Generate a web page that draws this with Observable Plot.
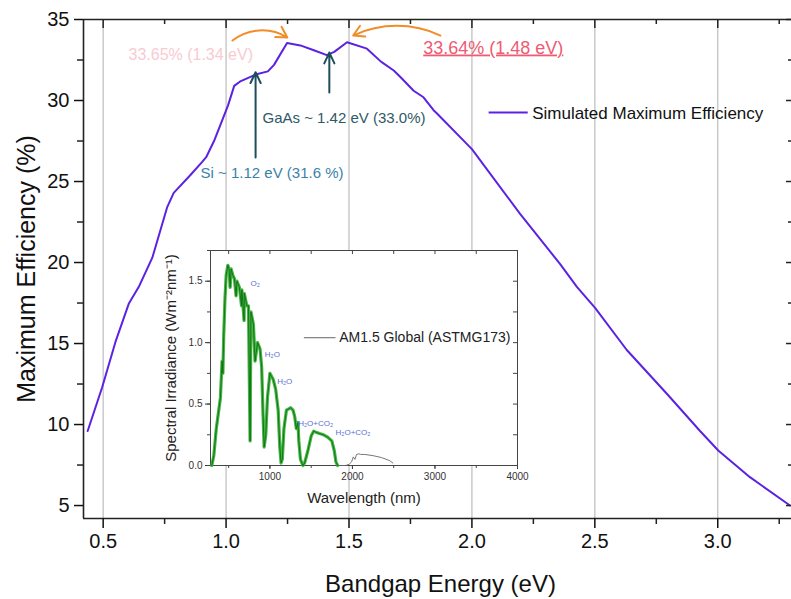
<!DOCTYPE html>
<html><head><meta charset="utf-8">
<script src="https://cdn.jsdelivr.net/npm/d3@7"></script>
<script src="https://cdn.jsdelivr.net/npm/@observablehq/plot@0.6"></script>
<style>
body{margin:0;background:#fff;}
#wrap{position:relative;width:791px;height:599px;overflow:hidden;font-family:"Liberation Sans",Arial,sans-serif;}
#inset{position:absolute;left:155px;top:240px;}
.uline text{text-decoration:underline;}
</style></head><body>
<div id="wrap"><div id="main"></div><div id="inset"></div></div>
<script>
// ---- main curve: simulated maximum efficiency vs bandgap ----
const bandgap = [0.437,0.496,0.55,0.604,0.645,0.70,0.76,0.787,0.855,0.902,0.919,0.951,1.008,1.033,1.06,1.12,1.17,1.195,1.248,1.302,1.357,1.41,1.44,1.492,1.573,1.63,1.682,1.709,1.763,1.803,1.844,1.858,2.0,2.196,2.359,2.427,2.501,2.63,2.793,2.928,3.002,3.131,3.294];
const efficiency = [9.6,12.3,15.1,17.45,18.5,20.3,23.4,24.3,25.4,26.2,26.5,27.5,29.7,30.9,31.2,31.6,31.8,32.2,33.55,33.4,33.1,32.8,33.0,33.6,33.2,32.4,31.85,31.45,30.6,30.2,29.4,29.2,27.0,23.0,19.9,18.5,17.2,14.6,11.9,9.6,8.4,6.75,5.0];
const xMajor = [0.5,1.0,1.5,2.0,2.5,3.0];
const xMinor = [0.75,1.25,1.75,2.25,2.75,3.25];
const yMajor = [5,10,15,20,25,30,35];
const yMinor = [7.5,12.5,17.5,22.5,27.5,32.5];
const xDomain = [0.42,3.30];
const yDomain = [4.2,35];
const xTitle = "Bandgap Energy (eV)";
const yTitle = "Maximum Efficiency (%)";
const legendLabel = "Simulated Maximum Efficiency";
const legendLine = [{x1:2.068,x2:2.227,y:29.26}];
const legendText = [{x:2.245,y:28.83,label:legendLabel}];
// annotations (data units)
const peakMain = [{x:1.802,y:32.90,label:"33.64% (1.48 eV)"}];
const peakFaded = [{x:0.603,y:32.47,label:"33.65% (1.34 eV)"}];
const gaasNote = [{x:1.148,y:28.64,label:"GaAs ~ 1.42 eV (33.0%)"}];
const siNote = [{x:0.896,y:25.19,label:"Si ~ 1.12 eV (31.6 %)"}];
const tealArrows = [{x:1.12,y1:26.48,y2:31.75},{x:1.42,y1:30.49,y2:32.96}];
const orangeLeft = [{x1:1.026,y1:33.70,x2:1.249,y2:33.89}];
const orangeRight = [{x1:1.872,y1:34.01,x2:1.517,y2:34.01}];

// ---- inset: AM1.5 Global spectrum ----
const wavelength = [295,320,350,380,400,420,430,440,455,470,490,505,518,530,550,570,590,600,630,656,660,687,690,720,740,760,770,800,820,850,880,900,915,930,950,970,1000,1040,1070,1100,1120,1135,1150,1170,1200,1250,1280,1300,1320,1340,1350,1370,1400,1420,1460,1500,1530,1560,1600,1650,1700,1750,1780,1800,1820,1870,1920,1960,1990,2010,2030,2050,2077,2100,2150,2250,2350,2450,2490];
const irradiance = [0.0,0.08,0.30,0.45,0.55,0.85,0.75,1.05,1.35,1.55,1.63,1.60,1.45,1.60,1.55,1.52,1.38,1.50,1.45,1.30,1.43,1.18,1.40,1.30,1.30,0.20,1.25,1.15,0.85,1.00,0.95,0.80,0.45,0.15,0.25,0.55,0.75,0.70,0.62,0.45,0.15,0.02,0.05,0.30,0.45,0.47,0.45,0.40,0.30,0.35,0.20,0.05,0.0,0.02,0.12,0.24,0.28,0.27,0.26,0.25,0.23,0.20,0.12,0.03,0.0,0.0,0.0,0.01,0.03,0.07,0.05,0.09,0.095,0.09,0.09,0.08,0.065,0.04,0.02];
const insetXMajor = [1000,2000,3000,4000];
const insetXAll = [500,1000,1500,2000,2500,3000,3500,4000];
const insetYMajor = [0,0.5,1.0,1.5];
const insetYAll = [0,0.25,0.5,0.75,1.0,1.25,1.5,1.75];
const insetXDomain = [280,4000];
const insetYDomain = [0,1.75];
const insetXTitle = "Wavelength (nm)";
const insetYTitle = "Spectral Irradiance (Wm⁻²nm⁻¹)";
const insetLegendLabel = "AM1.5 Global (ASTMG173)";
const insetLegendLine = [{x1:1411,x2:1795,y:1.04}];
const insetLegendText = [{x:1840,y:1.04,label:insetLegendLabel}];
const bandLabels = [
  {x:765,y:1.46,label:"O₂"},
  {x:938,y:0.88,label:"H₂O"},
  {x:1088,y:0.66,label:"H₂O"},
  {x:1343,y:0.32,label:"H₂O+CO₂"},
  {x:1795,y:0.25,label:"H₂O+CO₂"}
];

const FONT = "Liberation Sans, Arial, sans-serif";
const purple = "#5b22e2";
const curve = bandgap.map((b,i)=>({b, e:efficiency[i]}));
const W = 791-83-0, H = 599-19-81;

const main = Plot.plot({
  width:791, height:599, marginLeft:83, marginRight:0, marginTop:19, marginBottom:81,
  x:{domain:xDomain}, y:{domain:yDomain},
  style:{fontFamily:FONT, background:"white", color:"#111", overflow:"visible"},
  marks:[
    Plot.ruleX(xMajor,{stroke:"#c2c2c2",strokeWidth:1.3}),
    Plot.line(curve,{x:"b",y:"e",stroke:purple,strokeWidth:2}),
    // frame lines
    Plot.ruleY([yDomain[1]],{stroke:"#222",strokeWidth:1.6}),
    Plot.ruleY([yDomain[0]],{stroke:"#222",strokeWidth:1.6}),
    Plot.ruleX([xDomain[0]],{stroke:"#222",strokeWidth:1.6}),
    // axes
    Plot.axisX({ticks:xMajor,anchor:"bottom",tickSize:10,tickPadding:5,fontSize:20,label:null,tickFormat:d3.format(".1f"),strokeWidth:1.5}),
    Plot.axisY({ticks:yMajor,anchor:"left",tickSize:9,tickPadding:5,fontSize:20,label:null,strokeWidth:1.5}),
    Plot.ruleX(xMinor,{insetTop:H-6,dy:6,stroke:"#222",strokeWidth:1.5}),
    Plot.ruleY(yMinor,{insetRight:W-6,dx:-6,stroke:"#222",strokeWidth:1.5}),
    // top (inward) ticks
    Plot.ruleX(xMajor,{insetBottom:H-9,stroke:"#222",strokeWidth:1.5}),
    Plot.ruleX(xMinor,{insetBottom:H-5,stroke:"#222",strokeWidth:1.5}),
    // right (inward) ticks
    Plot.ruleY(yMajor,{insetLeft:W-5,stroke:"#222",strokeWidth:1.5}),
    Plot.ruleY(yMinor,{insetLeft:W-3,stroke:"#222",strokeWidth:1.5}),
    // titles
    Plot.text([xTitle],{frameAnchor:"bottom",dy:66,dx:3,fontSize:24,textAnchor:"middle",lineAnchor:"middle",fill:"#111"}),
    Plot.text([yTitle],{frameAnchor:"left",dx:-57,rotate:-90,fontSize:25,textAnchor:"middle",lineAnchor:"middle",fill:"#111"}),
    // legend
    Plot.link(legendLine,{x1:"x1",x2:"x2",y1:"y",y2:"y",stroke:purple,strokeWidth:2}),
    Plot.text(legendText,{x:"x",y:"y",text:"label",textAnchor:"start",lineAnchor:"bottom",fontSize:17,fill:"#111"}),
    // annotations
    Plot.arrow(orangeLeft,{x1:"x1",y1:"y1",x2:"x2",y2:"y2",bend:35,stroke:"#f28c28",strokeWidth:2,headLength:9}),
    Plot.arrow(orangeRight,{x1:"x1",y1:"y1",x2:"x2",y2:"y2",bend:-25,stroke:"#f28c28",strokeWidth:2,headLength:9}),
    Plot.arrow(tealArrows,{x1:"x",x2:"x",y1:"y1",y2:"y2",stroke:"#1d4e5c",strokeWidth:2,headLength:9,headAngle:50}),
    Plot.text(peakFaded,{x:"x",y:"y",text:"label",textAnchor:"start",lineAnchor:"bottom",fontSize:16,fill:"#f9cad1"}),
    Plot.text(peakMain,{x:"x",y:"y",text:"label",textAnchor:"start",lineAnchor:"bottom",fontSize:18,fill:"#ee5b72",className:"uline"}),
    Plot.text(gaasNote,{x:"x",y:"y",text:"label",textAnchor:"start",lineAnchor:"bottom",fontSize:15,fill:"#2f5966"}),
    Plot.text(siNote,{x:"x",y:"y",text:"label",textAnchor:"start",lineAnchor:"bottom",fontSize:15,fill:"#3a82a8"})
  ]
});
document.getElementById("main").appendChild(main);

const spectrum = wavelength.map((w,i)=>({w, s:irradiance[i]}));
const visiblePart = spectrum.filter(d=>d.w<1850);
const IW = 370-55-8, IH = 275-10-50;
const inset = Plot.plot({
  width:370, height:275, marginLeft:55, marginRight:8, marginTop:10, marginBottom:50,
  x:{domain:insetXDomain}, y:{domain:insetYDomain},
  style:{fontFamily:FONT, background:"transparent", color:"#333", overflow:"visible"},
  marks:[
    Plot.frame({fill:"white",stroke:"#444",strokeWidth:1}),
    Plot.line(spectrum,{x:"w",y:"s",stroke:"#666",strokeWidth:0.9}),
    Plot.line(visiblePart,{x:"w",y:"s",stroke:"#2fae2f",strokeWidth:3.2,strokeOpacity:0.9}),
    Plot.line(visiblePart,{x:"w",y:"s",stroke:"#0e6a12",strokeWidth:0.8}),
    Plot.axisX({ticks:insetXMajor,anchor:"bottom",tickSize:4,tickPadding:3,fontSize:10,label:null,tickFormat:d3.format("d")}),
    Plot.axisY({ticks:insetYMajor,anchor:"left",tickSize:5,tickPadding:3,fontSize:10,label:null,tickFormat:d3.format(".1f")}),
    Plot.ruleY(insetYAll,{insetRight:IW-3,dx:-3,stroke:"#444"}),
    Plot.ruleX(insetXAll,{insetTop:IH-3,dy:3,stroke:"#444"}),
    Plot.ruleX(insetXAll,{insetBottom:IH-4,stroke:"#444"}),
    Plot.ruleY(insetYAll,{insetLeft:IW-4,stroke:"#444"}),
    Plot.text(bandLabels,{x:"x",y:"y",text:"label",textAnchor:"start",lineAnchor:"bottom",fontSize:8,fill:"#5a6fd6"}),
    Plot.link(insetLegendLine,{x1:"x1",x2:"x2",y1:"y",y2:"y",stroke:"#666",strokeWidth:1}),
    Plot.text(insetLegendText,{x:"x",y:"y",text:"label",textAnchor:"start",lineAnchor:"middle",fontSize:14,fill:"#222"}),
    Plot.text([insetXTitle],{frameAnchor:"bottom",dy:37,fontSize:15,textAnchor:"middle",lineAnchor:"bottom",fill:"#222"}),
    Plot.text([insetYTitle],{frameAnchor:"left",dx:-39,rotate:-90,fontSize:15,textAnchor:"middle",lineAnchor:"middle",fill:"#222"})
  ]
});
document.getElementById("inset").appendChild(inset);
</script>
</body></html>
